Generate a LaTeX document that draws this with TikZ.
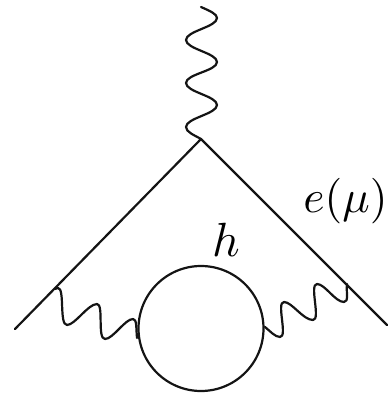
\documentclass[tikz,border=0pt]{standalone}
\tikzset{
  fermion/.style={line width=2.2pt,line cap=round,line join=round,black!92},
  boson/.style={line width=2.2pt,line cap=round,line join=round,black!92},
  lab/.style={inner sep=0pt,scale=4.8,anchor=base}
}
\begin{document}
\begin{tikzpicture}[x=1pt,y=-1pt]
\useasboundingbox (0,0) rectangle (387,395);
\coordinate (v) at (201,139);
\coordinate (l) at (15,329);
\coordinate (r) at (387,325);
\node[circle,draw,fermion,minimum size=125pt,inner sep=0pt] (loop) at (201,328.5) {};
\draw[fermion] (l) -- (v) -- (r);
% top photon
\coordinate (t0) at (201,7);
\coordinate (t1) at (217,18);
\coordinate (t2) at (186,40);
\coordinate (t3) at (217,62);
\coordinate (t4) at (186,83);
\coordinate (t5) at (217,105);
\coordinate (t6) at (186,127);
\draw[boson] (t0) .. controls (210,11) and (217,14) .. (t1)
  .. controls (217,27) and (186,31) .. (t2)
  .. controls (186,49) and (217,53) .. (t3)
  .. controls (217,71) and (186,74) .. (t4)
  .. controls (186,92) and (217,96) .. (t5)
  .. controls (217,114) and (186,118) .. (t6)
  .. controls (186,132) and (194,135) .. (v);
% left photon
\coordinate (a0) at (55,289);
\coordinate (a1) at (58,288);
\coordinate (a2) at (67,325);
\coordinate (a3) at (97,304);
\coordinate (a4) at (105,339);
\coordinate (a5) at (133,319);
\coordinate (a6) at (137,338);
\draw[boson] (a0) -- (a1) .. controls (65,288) and (59,325) .. (a2)
  .. controls (75,325) and (88,304) .. (a3)
  .. controls (104,304) and (97,339) .. (a4)
  .. controls (113,339) and (125,319) .. (a5)
  .. controls (137,319) and (136,328) .. (a6);
% right photon
\coordinate (b0) at (265,327);
\coordinate (b1) at (280,337);
\coordinate (b2) at (284,302);
\coordinate (b3) at (313,320);
\coordinate (b4) at (317,284);
\coordinate (b5) at (344,302);
\coordinate (b6) at (347,284);
\draw[boson] (b0) .. controls (270,331) and (275,337) .. (b1)
  .. controls (288,337) and (276,302) .. (b2)
  .. controls (292,302) and (303,320) .. (b3)
  .. controls (321,320) and (309,284) .. (b4)
  .. controls (325,284) and (335,302) .. (b5)
  .. controls (349,302) and (346,292) .. (b6);
\node[lab] (h) at (226,256) {$h$};
\node[lab,scale=0.95,anchor=base west] (e) at (302.5,212) {$e(\mu)$};
\end{tikzpicture}
\end{document}
